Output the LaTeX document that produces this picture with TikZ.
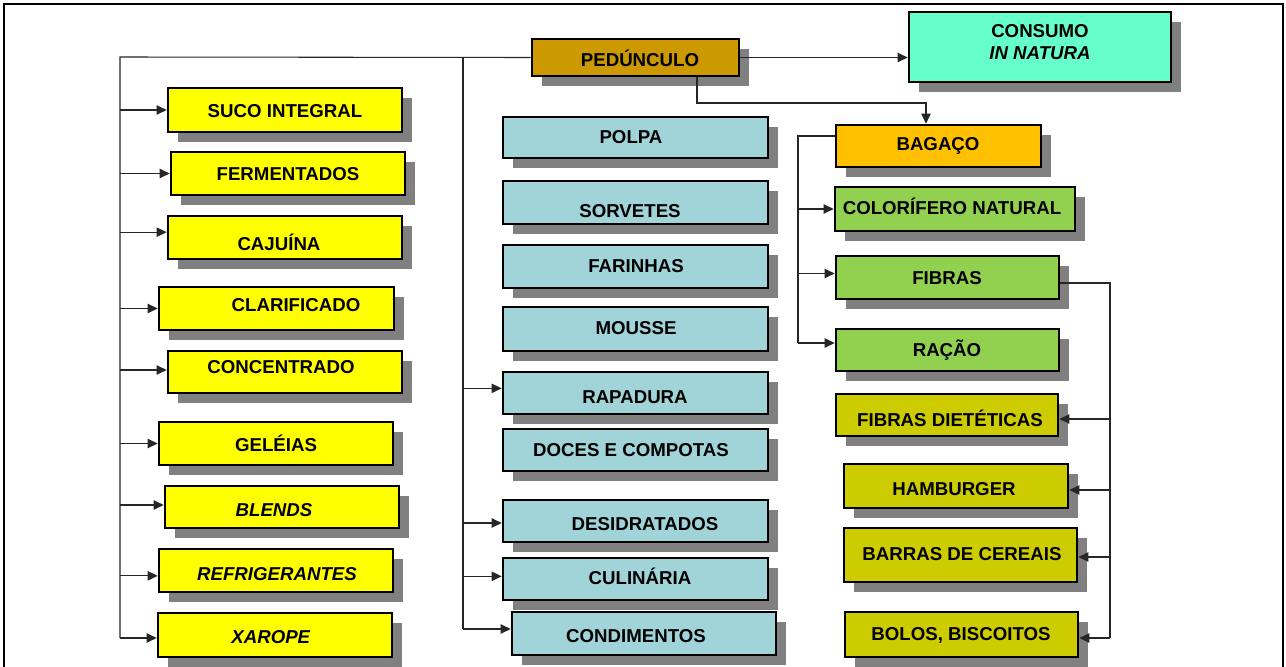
\documentclass[tikz,border=0pt]{standalone}
\usepackage{fontspec}
\setmainfont{Liberation Sans}
\usetikzlibrary{shadows,arrows.meta}
\definecolor{yel}{HTML}{FFFF00}
\definecolor{blu}{HTML}{A0D4D8}
\definecolor{pedc}{HTML}{CC9900}
\definecolor{consc}{HTML}{66FFCC}
\definecolor{bagc}{HTML}{FFC000}
\definecolor{grn}{HTML}{92D050}
\definecolor{olv}{HTML}{CCCC00}
\definecolor{shd}{HTML}{808080}
\tikzset{
  box/.style={draw=black, line width=2pt, rectangle, inner sep=0pt,
    drop shadow={shadow xshift=7.5pt, shadow yshift=-7.5pt, fill=shd, opacity=1}},
  lbl/.style={font=\fontsize{14}{16.5}\selectfont\bfseries, inner sep=0pt, align=center, text=black},
  conn/.style={draw=black!85, line width=0.8pt},
  arr/.style={conn, -{Triangle[length=7.5pt,width=7pt]}},
}
\newcommand{\bx}[9]{%
  \pgfmathsetmacro{\bw}{(#4-#2)*0.75}%
  \pgfmathsetmacro{\bh}{(#5-#3)*0.75}%
  \pgfmathsetmacro{\bcx}{(#2+#4)/2}%
  \pgfmathsetmacro{\bcy}{(#3+#5)/2}%
  \pgfmathsetmacro{\bdx}{(#7-(#2+#4)/2)*0.75}%
  \pgfmathsetmacro{\bdy}{-(#8-(#3+#5)/2)*0.75}%
  \node[box, fill=#6, minimum width=\bw pt, minimum height=\bh pt,
    label={[lbl, xshift=\bdx pt, yshift=\bdy pt]center:{#9}}] (#1) at (\bcx,\bcy) {};%
}
\begin{document}
\begin{tikzpicture}[x=0.75pt, y=-0.75pt]
\useasboundingbox (0,0) rectangle (1286,667);
\fill[white] (0,0) rectangle (1286,667);
% frame
\draw[line width=2pt] (4,670) -- (4,4) -- (1283,4) -- (1283,670);

% boxes
\bx{ped}{532}{39}{739}{76}{pedc}{640}{58}{PEDÚNCULO}
\bx{cons}{909}{12}{1171}{82}{consc}{1040}{42}{CONSUMO\\\textit{IN NATURA}}

\bx{suco}{168}{88}{402}{132}{yel}{285}{111}{SUCO INTEGRAL}
\bx{ferm}{171}{152}{405}{195}{yel}{288}{174}{FERMENTADOS}
\bx{caj}{168}{216}{402}{259}{yel}{279}{242}{CAJUÍNA}
\bx{clar}{159}{287}{394}{330}{yel}{296}{305}{CLARIFICADO}
\bx{conc}{168}{351}{402}{393}{yel}{281}{367}{CONCENTRADO}
\bx{gel}{159}{422}{393}{465}{yel}{276}{443}{GELÉIAS}
\bx{blen}{165}{486}{399}{528}{yel}{274}{510}{\textit{BLENDS}}
\bx{refr}{159}{549}{393}{592}{yel}{277}{574}{\textit{REFRIGERANTES}}
\bx{xar}{158}{613}{392}{657}{yel}{271}{637}{\textit{XAROPE}}

\bx{polpa}{503}{117}{768}{158}{blu}{631}{137}{POLPA}
\bx{sorv}{503}{181}{768}{224}{blu}{630}{211}{SORVETES}
\bx{far}{503}{245}{768}{288}{blu}{636}{266}{FARINHAS}
\bx{mous}{503}{307}{768}{351}{blu}{636}{328}{MOUSSE}
\bx{rap}{503}{372}{768}{414}{blu}{635}{397}{RAPADURA}
\bx{doce}{503}{429}{768}{471}{blu}{631}{450}{DOCES E COMPOTAS}
\bx{des}{503}{500}{768}{542}{blu}{645}{524}{DESIDRATADOS}
\bx{cul}{503}{558}{768}{600}{blu}{640}{576}{CULINÁRIA}
\bx{cond}{512}{612}{776}{655}{blu}{636}{636}{CONDIMENTOS}

\bx{bag}{836}{125}{1041}{167}{bagc}{938}{146}{BAGAÇO}
\bx{col}{835}{187}{1075}{231}{grn}{952}{206}{COLORÍFERO NATURAL}
\bx{fib}{836}{256}{1059}{299}{grn}{947}{278}{FIBRAS}
\bx{rac}{836}{329}{1059}{371}{grn}{947}{350}{RAÇÃO}
\bx{fd}{836}{394}{1058}{436}{olv}{950}{418}{FIBRAS DIETÉTICAS}
\bx{ham}{844}{464}{1068}{508}{olv}{954}{489}{HAMBURGER}
\bx{bar}{844}{528}{1077}{582}{olv}{962}{554}{BARRAS DE CEREAIS}
\bx{bol}{845}{612}{1078}{657}{olv}{961}{635}{BOLOS, BISCOITOS}

% trunk coordinates
\coordinate (lt) at (120,57);
\coordinate (lb) at (120,638);
\coordinate (mt) at (463,57);
\coordinate (mb) at (463,629);
\coordinate (pb) at (697,103);
\coordinate (pc) at (926,103);
\coordinate (bt) at (798,136);
\coordinate (bb) at (798,343);
\coordinate (ft) at (1110,283);
\coordinate (fb) at (1110,638);

% left trunk
\draw[conn] (ped.west) -- (lt) -- (lb);
\draw[arr] (lt |- suco.west) -- (suco.west);
\draw[arr] (lt |- ferm.west) -- (ferm.west);
\draw[arr] ([yshift=4pt]lt |- caj.west) -- ([yshift=4pt]caj.west);
\draw[arr] (lt |- clar.west) -- (clar.west);
\draw[arr] ([yshift=1.5pt]lt |- conc.west) -- ([yshift=1.5pt]conc.west);
\draw[arr] (lt |- gel.west) -- (gel.west);
\draw[arr] ([yshift=1.5pt]lt |- blen.west) -- ([yshift=1.5pt]blen.west);
\draw[arr] ([yshift=-4pt]lt |- refr.west) -- ([yshift=-4pt]refr.west);
\draw[arr] (lb) -- (lb -| xar.west);

% middle trunk
\draw[conn] (mt) -- (mb);
\draw[arr] ([yshift=3.5pt]mt |- rap.west) -- ([yshift=3.5pt]rap.west);
\draw[arr] ([yshift=-1.5pt]mt |- des.west) -- ([yshift=-1.5pt]des.west);
\draw[arr] ([yshift=2pt]mt |- cul.west) -- ([yshift=2pt]cul.west);
\draw[arr] (mb) -- (mb -| cond.west);

% right
\draw[arr] (ped.east) -- (ped.east -| cons.west);
\draw[arr] (ped.south -| pb) -- (pb) -- (pc) -- (pc |- bag.north);

% bagaco trunk
\draw[conn] (bag.west |- bt) -- (bt) -- (bb);
\draw[arr] (bt |- col.west) -- (col.west);
\draw[arr] ([yshift=3pt]bt |- fib.west) -- ([yshift=3pt]fib.west);
\draw[arr] (bb) -- (bb -| rac.west);

% fibras trunk
\draw[conn] (fib.east |- ft) -- (ft) -- (fb);
\draw[arr] ([yshift=-3pt]ft |- fd.east) -- ([yshift=-3pt]fd.east);
\draw[arr] ([yshift=-3pt]ft |- ham.east) -- ([yshift=-3pt]ham.east);
\draw[arr] ([yshift=-1.5pt]ft |- bar.east) -- ([yshift=-1.5pt]bar.east);
\draw[arr] (fb) -- (fb -| bol.east);
\end{tikzpicture}
\end{document}
